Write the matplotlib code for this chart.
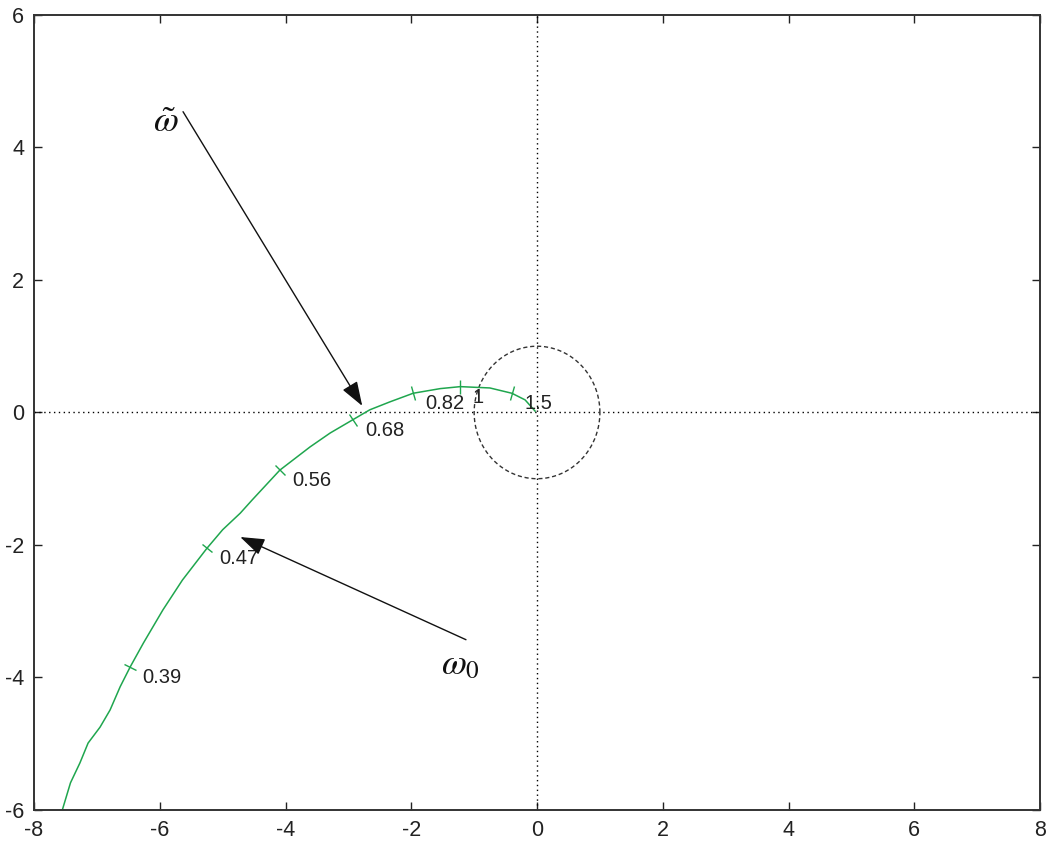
import numpy as np
import matplotlib

matplotlib.use("Agg")
import matplotlib.pyplot as plt
from matplotlib.markers import MarkerStyle
from matplotlib.transforms import Affine2D

curve_re = [-7.55, -7.42, -7.27, -7.14, -6.95, -6.79, -6.63, -6.47, -6.26, -5.95,
            -5.64, -5.25, -5.00, -4.72, -4.53, -4.09, -3.61, -3.29, -2.93, -2.66,
            -2.34, -1.97, -1.54, -1.22, -0.75, -0.40, -0.19, -0.03]
curve_im = [-6.00, -5.59, -5.29, -4.99, -4.75, -4.49, -4.14, -3.84, -3.48, -2.98,
            -2.53, -2.05, -1.77, -1.52, -1.32, -0.87, -0.52, -0.31, -0.11, 0.04,
            0.16, 0.29, 0.36, 0.39, 0.37, 0.29, 0.19, 0.02]

# frequency marks along the curve
mark_labels = ["0.39", "0.47", "0.56", "0.68", "0.82", "1", "1.5"]
mark_re = [-6.47, -5.25, -4.09, -2.93, -1.97, -1.22, -0.40]
mark_im = [-3.84, -2.05, -0.87, -0.11, 0.29, 0.39, 0.29]

# annotations: (text, text position, arrow tail, arrow tip)
ann_text = [r"$\tilde{\omega}$", r"$\omega_0$"]
ann_text_pos = [(-5.91, 4.38), (-1.22, -3.80)]
ann_tail = [(-5.63, 4.54), (-1.13, -3.43)]
ann_tip = [(-2.78, 0.10), (-4.72, -1.88)]

plt.rcParams["font.family"] = ["Liberation Sans", "DejaVu Sans"]
plt.rcParams["axes.unicode_minus"] = False
plt.rcParams["mathtext.fontset"] = "stix"

fig = plt.figure(figsize=(10.5, 8.41), dpi=100)
ax = fig.add_axes([0.0324, 0.0369, 0.9581, 0.9453])
ax.set_xlim(-8, 8)
ax.set_ylim(-6, 6)
ax.set_xticks(np.arange(-8, 9, 2))
ax.set_yticks(np.arange(-6, 7, 2))
ax.tick_params(direction="in", top=True, right=True, length=6, width=1,
               labelsize=15.5, colors="#222222", pad=7)
for s in ax.spines.values():
    s.set_linewidth(1.4)
    s.set_color("#333333")

# zero lines
ax.axhline(0, color="k", lw=1, ls=(0, (1, 2.5)))
ax.axvline(0, color="k", lw=1, ls=(0, (1, 2.5)))

# unit circle
t = np.linspace(0, 2 * np.pi, 200)
ax.plot(np.cos(t), np.sin(t), color="#333333", lw=1, ls=(0, (3, 2)))

# locus
ax.plot(curve_re, curve_im, color="#1fa64e", lw=1.1)

# perpendicular tick marks on the curve
fig.canvas.draw()
disp = ax.transData.transform(np.column_stack([curve_re, curve_im]))
for lab, xr, yi in zip(mark_labels, mark_re, mark_im):
    p = ax.transData.transform((xr, yi))
    i = np.argmin(np.hypot(*(disp - p).T))
    a = disp[max(i - 1, 0)]
    b = disp[min(i + 1, len(disp) - 1)]
    ang = np.degrees(np.arctan2(b[1] - a[1], b[0] - a[0]))
    m = MarkerStyle("|", transform=Affine2D().rotate_deg(ang))
    ax.plot([xr], [yi], marker=m, ms=10, mew=1, color="#1fa64e", ls="none")
    ax.annotate(lab, (xr, yi), xytext=(9, -7.5), textcoords="offset points",
                ha="left", va="center", fontsize=14.5, color="#222222")

for txt, tp, tail, tip in zip(ann_text, ann_text_pos, ann_tail, ann_tip):
    ax.annotate("", xy=tip, xytext=tail,
                arrowprops=dict(arrowstyle="-|>,head_length=1.0,head_width=0.35",
                                mutation_scale=15, color="#111111", lw=1,
                                shrinkA=0, shrinkB=0))
    ax.text(tp[0], tp[1], txt, fontsize=26, ha="center", va="center", color="#111111")

fig.savefig("out.png", dpi=100)
